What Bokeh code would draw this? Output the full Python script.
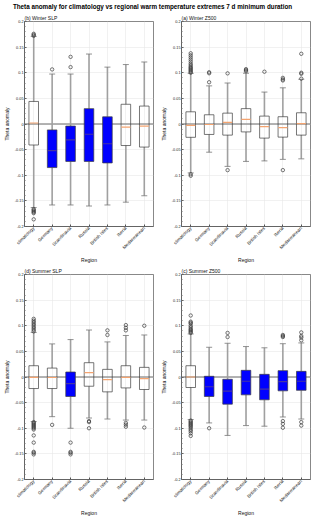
import math
from bokeh.plotting import figure
from bokeh.models import (Range1d, Span, SingleIntervalTicker, NumeralTickFormatter,
                          FactorRange, ColumnDataSource)
from bokeh.layouts import gridplot, column
from bokeh.embed import file_html
from bokeh.resources import INLINE

FONT = "Liberation Sans"

main_title = "Theta anomaly for climatology vs regional warm temperature extremes 7 d minimum duration"
categories = ["climatology", "Germany", "Scandinavia", "Russia", "British Isles", "Iberia", "Mediterranean"]

# (b) Winter SLP
wslp_low = [-0.163, -0.158, -0.158, -0.160, -0.158, -0.1525, -0.140]
wslp_q1 = [-0.041, -0.085, -0.073, -0.073, -0.076, -0.042, -0.045]
wslp_med = [0.002, -0.052, -0.031, -0.020, -0.0385, -0.006, -0.004]
wslp_q3 = [0.044, -0.0115, -0.004, 0.030, 0.014, 0.0385, 0.035]
wslp_high = [0.171, 0.0975, 0.0975, 0.1365, 0.111, 0.116, 0.121]
wslp_sig = [0, 1, 1, 1, 1, 0, 0]
wslp_out_cat = ["climatology"] * 9 + ["Germany"] + ["Scandinavia"] * 2
wslp_out_val = [0.172, 0.174, 0.176, -0.166, -0.168, -0.170, -0.172, -0.174, -0.186,
                0.1065, 0.111, 0.131]

# (a) Winter Z500
wz_low = [-0.0954, -0.055, -0.0827, -0.073, -0.072, -0.069, -0.068]
wz_q1 = [-0.026, -0.0204, -0.0217, -0.0154, -0.0275, -0.0256, -0.0217]
wz_med = [-0.0025, -0.001, 0.0033, 0.009, -0.005, -0.007, 0.0008]
wz_q3 = [0.0238, 0.018, 0.0212, 0.030, 0.0154, 0.0142, 0.0219]
wz_high = [0.0988, 0.0744, 0.080, 0.099, 0.0623, 0.0706, 0.0873]
wz_sig = [0, 0, 0, 0, 0, 0, 0]
wz_out_cat = (["climatology"] * 16 + ["Germany"] * 3 + ["Scandinavia"] * 2 + ["Russia"] * 3
              + ["British Isles"] + ["Iberia"] * 4 + ["Mediterranean"] * 4)
wz_out_val = [0.100, 0.102, 0.104, 0.106, 0.108, 0.110, 0.112, 0.115, 0.118, 0.122, 0.126,
              0.130, 0.134, 0.138, -0.098, -0.101,
              0.0815, 0.099, 0.101,
              0.0988, -0.090,
              0.103, 0.105, 0.107,
              0.102,
              0.085, 0.087, 0.090, -0.090,
              0.0885, 0.098, 0.100, 0.137]

# (d) Summer SLP
sslp_low = [-0.087, -0.0774, -0.100, -0.080, -0.082, -0.084, -0.084]
sslp_q1 = [-0.0225, -0.0225, -0.038, -0.018, -0.029, -0.0213, -0.0244]
sslp_med = [-0.0006, -0.001, -0.0128, 0.0085, -0.005, -0.0006, -0.003]
sslp_q3 = [0.022, 0.0174, 0.0097, 0.0279, 0.0149, 0.022, 0.0188]
sslp_high = [0.087, 0.0646, 0.073, 0.0917, 0.0685, 0.081, 0.082]
sslp_sig = [0, 0, 1, 0, 0, 0, 0]
sslp_out_cat = (["climatology"] * 22 + ["Germany"] + ["Scandinavia"] * 4 + ["Russia"] * 3
                + ["British Isles"] * 2 + ["Iberia"] * 6 + ["Mediterranean"] * 2)
sslp_out_val = [0.089, 0.092, 0.095, 0.098, 0.101, 0.104, 0.107, 0.110, 0.1135,
                -0.088, -0.090, -0.092, -0.094, -0.096, -0.098, -0.100, -0.1025,
                -0.114, -0.128, -0.146, -0.148, -0.151,
                -0.0934,
                -0.128, -0.146, -0.148, -0.151,
                -0.086, -0.088, -0.100,
                0.082, 0.091,
                0.091, 0.096, 0.1013, -0.0895, -0.093, -0.097,
                0.100, -0.0986]

# (c) Summer Z500
sz_low = [-0.083, -0.0896, -0.114, -0.0948, -0.096, -0.078, -0.082]
sz_q1 = [-0.0205, -0.038, -0.053, -0.0348, -0.0445, -0.027, -0.026]
sz_med = [0.0, -0.019, -0.0277, -0.0083, -0.0238, -0.009, -0.0083]
sz_q3 = [0.022, 0.0014, -0.0045, 0.013, 0.0052, 0.0124, 0.011]
sz_high = [0.084, 0.058, 0.0658, 0.0594, 0.057, 0.065, 0.0665]
sz_sig = [0, 1, 1, 1, 1, 1, 1]
sz_out_cat = (["climatology"] * 23 + ["Germany"] + ["Scandinavia"] * 2
              + ["Iberia"] * 6 + ["Mediterranean"] * 6)
sz_out_val = [0.086, 0.088, 0.090, 0.092, 0.094, 0.097, 0.100, 0.104, 0.106, 0.108, 0.120,
              -0.085, -0.087, -0.089, -0.091, -0.093, -0.095, -0.097, -0.100, -0.103,
              -0.106, -0.110, -0.115,
              -0.100,
              0.078, 0.086,
              0.078, 0.080, 0.082, -0.086, -0.0915, -0.099,
              0.0716, 0.077, 0.080, 0.087, -0.088, -0.0948]

BLUE = "#0000ff"
BLUE_MED = "#4535a5"
ORANGE_MED = "#f4a470"
WHISKER = "#a0a0a0"
EDGE = "#3c3c3c"


def panel(title, low, q1, med, q3, high, sig, out_cat, out_val):
    p = figure(x_range=FactorRange(factors=categories), y_range=Range1d(-0.2, 0.2),
               frame_width=129, frame_height=205, output_backend="svg",
               toolbar_location=None, min_border_left=19, min_border_right=4,
               min_border_top=0, min_border_bottom=0)
    p.title.text = title
    p.title.text_font = FONT
    p.title.text_font_size = "5px"
    p.title.text_font_style = "normal"
    p.title.standoff = 1
    p.title.offset = 0
    p.title.text_color = "#111111"

    src = ColumnDataSource(dict(
        cat=categories, low=low, q1=q1, med=med, q3=q3, high=high,
        fill=[BLUE if s else "white" for s in sig],
        alpha=[1.0 if s else 0.0 for s in sig],
        medc=[BLUE_MED if s else ORANGE_MED for s in sig],
    ))

    p.add_layout(Span(location=0, dimension="width", line_color="#9a9a9a",
                      line_width=1.6, level="underlay"))
    p.segment(x0="cat", y0="low", x1="cat", y1="q1", source=src,
              line_color=WHISKER, line_width=1.6)
    p.segment(x0="cat", y0="q3", x1="cat", y1="high", source=src,
              line_color=WHISKER, line_width=1.6)
    p.scatter(x="cat", y="low", marker="dash", size=6, line_color="#777777",
              line_width=0.8, source=src)
    p.scatter(x="cat", y="high", marker="dash", size=6, line_color="#777777",
              line_width=0.8, source=src)
    p.vbar(x="cat", bottom="q1", top="q3", width=0.52, fill_color="fill",
           fill_alpha="alpha", line_color=EDGE, line_width=0.7, source=src)
    p.rect(x="cat", y="med", width=0.5, height=1.2, height_units="screen",
           fill_color="medc", line_color=None, source=src)
    p.scatter(x=out_cat, y=out_val, marker="circle", size=3.4, fill_color=None,
              line_color="#3a3a3a", line_width=0.7)

    p.yaxis.ticker = SingleIntervalTicker(interval=0.05, num_minor_ticks=5)
    p.yaxis.formatter = NumeralTickFormatter(format="0.[00]")
    p.xaxis.major_label_orientation = math.pi / 4
    p.xaxis.axis_label = "Region"
    p.yaxis.axis_label = "Theta anomaly"
    for ax in (p.xaxis, p.yaxis):
        ax.axis_label_text_font = FONT
        ax.axis_label_text_font_size = "5px"
        ax.axis_label_text_font_style = "normal"
        ax.axis_label_text_color = "#111111"
        ax.axis_label_standoff = 2
        ax.major_label_text_font = FONT
        ax.major_label_text_color = "#222222"
        ax.major_label_standoff = 1
        ax.major_tick_in = 2
        ax.major_tick_out = 0
        ax.minor_tick_in = 1
        ax.minor_tick_out = 0
        ax.axis_line_color = "#555555"
        ax.major_tick_line_color = "#555555"
        ax.minor_tick_line_color = "#777777"
        ax.axis_line_width = 0.7
    p.xaxis.major_label_text_font_size = "4.6px"
    p.yaxis.major_label_text_font_size = "3.8px"
    p.grid.grid_line_color = "#e8e8e8"
    p.grid.grid_line_width = 0.6
    p.outline_line_color = "#555555"
    p.outline_line_width = 0.7
    return p


pb = panel("(b) Winter SLP", wslp_low, wslp_q1, wslp_med, wslp_q3, wslp_high, wslp_sig,
           wslp_out_cat, wslp_out_val)
pa = panel("(a) Winter Z500", wz_low, wz_q1, wz_med, wz_q3, wz_high, wz_sig,
           wz_out_cat, wz_out_val)
pd_ = panel("(d) Summer SLP", sslp_low, sslp_q1, sslp_med, sslp_q3, sslp_high, sslp_sig,
            sslp_out_cat, sslp_out_val)
pc = panel("(c) Summer Z500", sz_low, sz_q1, sz_med, sz_q3, sz_high, sz_sig,
           sz_out_cat, sz_out_val)

grid = gridplot([[pb, pa], [pd_, pc]], toolbar_location=None)

tfig = figure(width=304, height=12, output_backend="svg", toolbar_location=None,
              min_border=0, x_range=Range1d(0, 1), y_range=Range1d(0, 1))
tfig.title.text = main_title
tfig.title.text_font = FONT
tfig.title.text_font_size = "6.3px"
tfig.title.text_font_style = "bold"
tfig.title.text_color = "#000000"
tfig.title.align = "center"
tfig.title.standoff = 0
tfig.title.offset = 0
tfig.axis.visible = False
tfig.grid.visible = False
tfig.outline_line_color = None

layout = column(tfig, grid)

open("out.html", "w").write(file_html(layout, INLINE))
